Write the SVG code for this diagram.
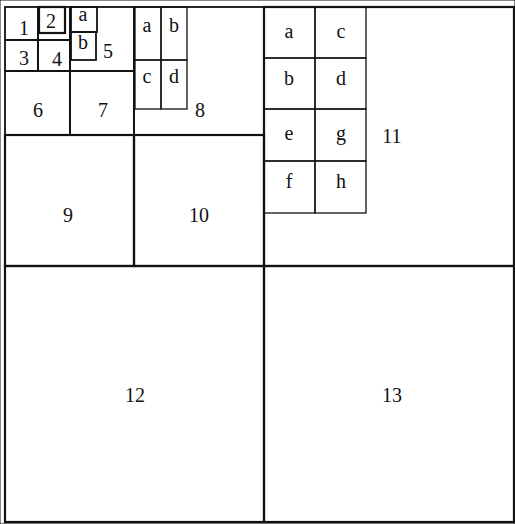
<svg xmlns="http://www.w3.org/2000/svg" width="515" height="524" viewBox="0 0 515 524">
<style>
rect{fill:none;stroke:#111}
.m{stroke-width:2.2}
.s{stroke-width:1.8}
.t{stroke-width:1.3}
text{font-family:"Liberation Serif","DejaVu Serif",serif;font-size:20px;fill:#111;text-anchor:middle}
</style>
<rect width="515" height="524" fill="#fff" stroke="none"/>
<g id="n1"><rect class="s" x="5" y="7" width="33" height="33"/><text x="24" y="35">1</text></g>
<g id="n2"><rect class="s" x="38" y="7" width="32" height="33"/><rect class="m" x="39" y="7" width="26" height="26"/><text x="51" y="28">2</text></g>
<g id="n3"><rect class="s" x="5" y="40" width="33" height="31"/><text x="24" y="65">3</text></g>
<g id="n4"><rect class="s" x="38" y="40" width="32" height="31"/><text x="57" y="66">4</text></g>
<g id="n5"><rect class="s" x="70" y="7" width="64" height="64"/>
<rect class="s" x="71" y="7" width="26" height="25"/><text x="83" y="21">a</text>
<rect class="s" x="71" y="32" width="25" height="28"/><text x="83" y="49">b</text>
<text x="108" y="58">5</text></g>
<g id="n6"><rect class="s" x="5" y="71" width="65" height="64"/><text x="38" y="117">6</text></g>
<g id="n7"><rect class="s" x="70" y="71" width="64" height="64"/><text x="103" y="117">7</text></g>
<g id="n8"><rect class="s" x="134" y="7" width="130" height="128"/>
<rect class="t" x="135" y="7" width="26" height="53"/><text x="147" y="32">a</text>
<rect class="t" x="161" y="7" width="26" height="53"/><text x="174" y="32">b</text>
<rect class="t" x="135" y="60" width="26" height="49"/><text x="147" y="83">c</text>
<rect class="t" x="161" y="60" width="26" height="49"/><text x="174" y="83">d</text>
<text x="200" y="117">8</text></g>
<g id="n9"><rect class="m" x="5" y="135" width="129" height="131"/><text x="68" y="222">9</text></g>
<g id="n10"><rect class="m" x="134" y="135" width="130" height="131"/><text x="199" y="222">10</text></g>
<g id="n11"><rect class="m" x="264" y="7" width="250" height="259"/>
<rect class="t" x="264" y="7" width="51" height="51"/><text x="289" y="38">a</text>
<rect class="t" x="315" y="7" width="51" height="51"/><text x="341" y="38">c</text>
<rect class="t" x="264" y="58" width="51" height="51"/><text x="289" y="85">b</text>
<rect class="t" x="315" y="58" width="51" height="51"/><text x="341" y="85">d</text>
<rect class="t" x="264" y="109" width="51" height="52"/><text x="289" y="140">e</text>
<rect class="t" x="315" y="109" width="51" height="52"/><text x="341" y="140">g</text>
<rect class="t" x="264" y="161" width="51" height="52"/><text x="289" y="188">f</text>
<rect class="t" x="315" y="161" width="51" height="52"/><text x="341" y="188">h</text>
<text x="392" y="143">11</text></g>
<g id="n12"><rect class="m" x="5" y="266" width="259" height="256"/><text x="135" y="402">12</text></g>
<g id="n13"><rect class="m" x="264" y="266" width="250" height="256"/><text x="392" y="402">13</text></g>
<g id="connectors"></g>
</svg>
